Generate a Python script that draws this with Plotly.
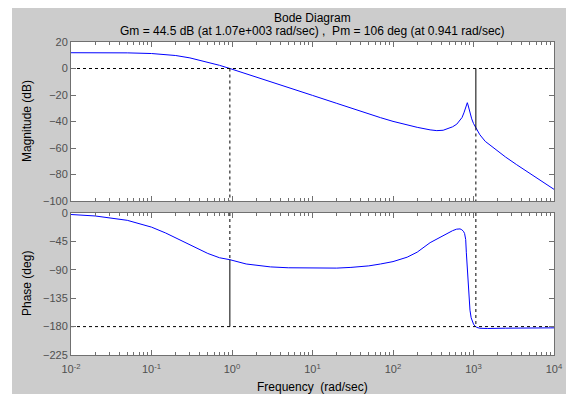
import plotly.graph_objects as go

# ---- data ----
mag_w = [0.01, 0.02, 0.05, 0.1, 0.15, 0.2, 0.3, 0.5, 0.7, 0.941, 1.5, 2, 3, 5, 10, 20, 30, 50, 70,
         100, 150, 200, 289, 350, 420, 464, 550, 620, 676, 720, 760, 800, 820, 838, 855, 875, 904,
         950, 1000, 1070, 1200, 1400, 1848, 2500, 3437, 5000, 7000, 10000]
mag_db = [11.9, 11.9, 11.8, 11.3, 10.6, 9.8, 8.0, 4.8, 2.4, 0.0, -3.9, -6.4, -9.9, -14.3, -20.3,
          -26.3, -29.9, -34.2, -37.1, -39.9, -42.7, -44.4, -46.3, -46.9, -46.6, -45.7, -44.0, -42.0,
          -39.5, -37.0, -33.5, -29.5, -27.2, -25.8, -27.5, -30.0, -33.0, -38.0, -41.5, -44.5, -50.0,
          -55.0, -61.0, -66.8, -72.6, -79.0, -85.0, -91.2]

ph_w = [0.01, 0.02, 0.05, 0.1, 0.15, 0.2, 0.3, 0.5, 0.7, 0.941, 1.5, 2, 3, 5, 10, 20, 30, 50, 70,
        100, 150, 200, 289, 350, 420, 464, 550, 617, 680, 715, 750, 775, 790, 800, 815, 835, 855,
        880, 904, 935, 966, 1000, 1040, 1070, 1100, 1200, 1500, 2500, 5000, 10000]
ph_deg = [-2.4, -4.7, -11.6, -22.4, -31.7, -39.5, -51.0, -64.1, -70.9, -74.0, -80.8, -83.1, -85.4,
          -86.8, -87.5, -87.3, -86.2, -83.8, -80.8, -77.0, -70.0, -62.0, -47.0, -41.0, -35.5, -32.2,
          -28.0, -25.6, -25.2, -26.5, -29.0, -32.5, -36.5, -42.0, -63.0, -88.0, -111.0, -135.0,
          -154.0, -166.0, -172.0, -176.0, -179.0, -180.2, -181.3, -182.6, -183.0, -182.5, -182.2,
          -182.0]

Gm_db = 44.5
Gm_w = 1070
Pm_deg = 106
Pm_w = 0.941

x_range = [0.01, 10000]
mag_range = [-100, 20]
ph_range = [-225, 0]
mag_ticks = [-100, -80, -60, -40, -20, 0, 20]
ph_ticks = [-225, -180, -135, -90, -45, 0]
x_ticks = [0.01, 0.1, 1, 10, 100, 1000, 10000]
x_ticktext = ["10<sup>-2</sup>", "10<sup>-1</sup>", "10<sup>0</sup>", "10<sup>1</sup>",
              "10<sup>2</sup>", "10<sup>3</sup>", "10<sup>4</sup>"]
x_minor = [m * d for d in [0.01, 0.1, 1, 10, 100, 1000] for m in range(2, 10)]

title = "Bode Diagram"
subtitle = ("Gm = 44.5 dB (at 1.07e+003 rad/sec) ,  Pm = 106 deg (at 0.941 rad/sec)")

# ---- figure ----
W, H = 566, 394
L, R, T, B = 71, 12, 42, 39
pw, ph_ = W - L - R, H - T - B


def px_x(p):
    return (p - L) / pw


def px_y(p):
    return 1 - (p - T) / ph_


blue = "#0000ff"
fig = go.Figure()

fig.add_trace(go.Scatter(x=mag_w, y=mag_db, mode="lines", line=dict(color=blue, width=1),
                         xaxis="x", yaxis="y", showlegend=False, hoverinfo="skip"))
fig.add_trace(go.Scatter(x=ph_w, y=ph_deg, mode="lines", line=dict(color=blue, width=1),
                         xaxis="x2", yaxis="y2", showlegend=False, hoverinfo="skip"))

dot = dict(color="black", width=1, dash="dot")
solid = dict(color="black", width=1)
# magnitude panel
fig.add_trace(go.Scatter(x=x_range, y=[0, 0], mode="lines", line=dot, xaxis="x", yaxis="y",
                         showlegend=False, hoverinfo="skip"))
fig.add_trace(go.Scatter(x=[Pm_w, Pm_w], y=[0, mag_range[0]], mode="lines", line=dot,
                         xaxis="x", yaxis="y", showlegend=False, hoverinfo="skip"))
fig.add_trace(go.Scatter(x=[Gm_w, Gm_w], y=[0, -Gm_db], mode="lines", line=solid,
                         xaxis="x", yaxis="y", showlegend=False, hoverinfo="skip"))
fig.add_trace(go.Scatter(x=[Gm_w, Gm_w], y=[-Gm_db, mag_range[0]], mode="lines", line=dot,
                         xaxis="x", yaxis="y", showlegend=False, hoverinfo="skip"))
# phase panel
fig.add_trace(go.Scatter(x=x_range, y=[-180, -180], mode="lines", line=dot, xaxis="x2", yaxis="y2",
                         showlegend=False, hoverinfo="skip"))
fig.add_trace(go.Scatter(x=[Pm_w, Pm_w], y=[ph_range[1], -180 + Pm_deg], mode="lines", line=dot,
                         xaxis="x2", yaxis="y2", showlegend=False, hoverinfo="skip"))
fig.add_trace(go.Scatter(x=[Pm_w, Pm_w], y=[-180 + Pm_deg, -180], mode="lines", line=solid,
                         xaxis="x2", yaxis="y2", showlegend=False, hoverinfo="skip"))
fig.add_trace(go.Scatter(x=[Gm_w, Gm_w], y=[ph_range[1], -180], mode="lines", line=dot,
                         xaxis="x2", yaxis="y2", showlegend=False, hoverinfo="skip"))

axcol = "#707070"
font_tick = dict(family="Liberation Sans, Arial, sans-serif", size=11, color="#505050")
common_x = dict(type="log", range=[-2, 4], showgrid=False, zeroline=False, showline=True,
                linecolor=axcol, linewidth=1, mirror="allticks", ticks="inside", ticklen=5,
                tickcolor=axcol, tickvals=x_ticks, ticktext=x_ticktext, tickfont=font_tick,
                automargin=False, ticklabelstandoff=4,
                minor=dict(tickvals=x_minor, ticks="inside", ticklen=3, tickcolor=axcol))
common_y = dict(showgrid=False, zeroline=False, showline=True, linecolor=axcol, linewidth=1,
                mirror="allticks", ticks="inside", ticklen=5, tickcolor=axcol, tickfont=font_tick,
                automargin=False)

top_bottom = px_y(201)
bot_top = px_y(213)

fig.update_layout(
    width=W, height=H,
    margin=dict(l=L, r=R, t=T, b=B, pad=0, autoexpand=False),
    paper_bgcolor="#cccccc", plot_bgcolor="white",
    xaxis=dict(common_x, anchor="y", domain=[0, 1], showticklabels=False),
    yaxis=dict(common_y, domain=[top_bottom, 1], range=mag_range, tickvals=mag_ticks),
    xaxis2=dict(common_x, anchor="y2", domain=[0, 1], matches="x"),
    yaxis2=dict(common_y, domain=[0, bot_top], range=ph_range, tickvals=ph_ticks),
    font=dict(family="Liberation Sans, Arial, sans-serif", size=12, color="black"),
)

# white border strips (top and left) outside the gray figure area
fig.add_shape(type="rect", xref="paper", yref="paper", x0=px_x(-10), x1=px_x(W + 10),
              y0=px_y(8), y1=px_y(-10), fillcolor="white", line=dict(width=0), layer="below")
fig.add_shape(type="rect", xref="paper", yref="paper", x0=px_x(-10), x1=px_x(12),
              y0=px_y(H + 10), y1=px_y(-10), fillcolor="white", line=dict(width=0), layer="below")

ann = [
    dict(text=title, x=0.5, y=px_y(18), xref="paper", yref="paper", showarrow=False,
         font=dict(size=12, color="black"), xanchor="center", yanchor="middle"),
    dict(text=subtitle, x=0.5, y=px_y(31), xref="paper", yref="paper", showarrow=False,
         font=dict(size=12, color="black"), xanchor="center", yanchor="middle"),
    dict(text="Magnitude (dB)", x=px_x(27), y=px_y(121), xref="paper", yref="paper",
         showarrow=False, textangle=-90, font=dict(size=12, color="black"),
         xanchor="center", yanchor="middle"),
    dict(text="Phase (deg)", x=px_x(27), y=px_y(284), xref="paper", yref="paper",
         showarrow=False, textangle=-90, font=dict(size=12, color="black"),
         xanchor="center", yanchor="middle"),
    dict(text="Frequency  (rad/sec)", x=0.5, y=px_y(387), xref="paper", yref="paper",
         showarrow=False, font=dict(size=12, color="black"), xanchor="center", yanchor="middle"),
]
fig.update_layout(annotations=ann)

fig.write_html("out.html")
